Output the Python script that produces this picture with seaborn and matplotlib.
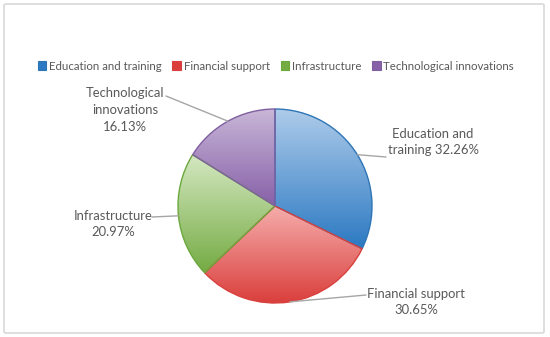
import numpy as np
import matplotlib
matplotlib.use("Agg")
import matplotlib.pyplot as plt
import seaborn as sns
from matplotlib.colors import LinearSegmentedColormap
from matplotlib.patches import FancyBboxPatch, Patch

# ------------------------------
# Data
# ------------------------------
categories = ["Education and training", "Financial support",
              "Infrastructure", "Technological innovations"]
shares = [32.26, 30.65, 20.97, 16.13]
slice_labels = ["Education and\ntraining 32.26%", "Financial support\n30.65%",
                "Infrastructure\n20.97%", "Technological\ninnovations\n16.13%"]

# gradient colours per slice (top, bottom) and edge colour
grad_top = ["#AECBEA", "#F5ADAB", "#D5E8C2", "#C8B6D7"]
grad_bot = ["#2B79C2", "#DA3F3C", "#74AB43", "#8760A8"]
edge_cols = ["#2E75B6", "#D9403D", "#6AA83C", "#7F5FA0"]

sns.set_theme(style="white")
plt.rcParams['font.family'] = ['Lato', 'DejaVu Sans']
text_col = "#595959"

W, H = 550, 337
fig = plt.figure(figsize=(W / 100, H / 100), dpi=100)
ax = fig.add_axes([0, 0, 1, 1])
ax.set_axis_off()

def py(y):
    # pixel row (from top) -> data y
    return H - y

# outer chart border
fig.patches.append(FancyBboxPatch((4 / W, 4 / H), 540 / W, 329 / H,
                                  boxstyle="round,pad=0,rounding_size=0.004",
                                  transform=fig.transFigure, fill=False,
                                  edgecolor="#D9D9D9", linewidth=1.2))

cx, cy, r = 275, py(206), 97
wedges, _ = ax.pie(shares, startangle=90, counterclock=False,
                   center=(cx, cy), radius=r,
                   wedgeprops=dict(linewidth=1.0))

for w, ct, cb, ec in zip(wedges, grad_top, grad_bot, edge_cols):
    w.set_facecolor("none")
    w.set_edgecolor(ec)
    w.set_zorder(3)
    bb = w.get_path().get_extents()
    cmap = LinearSegmentedColormap.from_list("g", [cb, ct])
    img = ax.imshow(np.linspace(0, 1, 256).reshape(-1, 1),
                    extent=[bb.x0, bb.x1, bb.y0, bb.y1], origin="lower",
                    cmap=cmap, aspect="auto", zorder=2, interpolation="bilinear")
    img.set_clip_path(w)

# labels with leader lines (text centre, leader end) in pixels
label_pos = [(433, 142), (416, 302), (113, 224), (125, 110)]
leader_end = [(386, 157), (366, 295), (152, 217), (166, 96)]

for w, lab, (tx, ty), (lx, ly) in zip(wedges, slice_labels, label_pos, leader_end):
    mid = np.deg2rad((w.theta1 + w.theta2) / 2)
    ex, ey = cx + r * np.cos(mid), cy + r * np.sin(mid)
    ax.plot([ex, lx], [ey, py(ly)], color="#A6A6A6", lw=1.0, zorder=4)
    ax.text(tx, py(ty), lab, ha="center", va="center", fontsize=9.4,
            color=text_col, linespacing=1.5, zorder=5)

handles = [Patch(facecolor=c, edgecolor=e, linewidth=0.8)
           for c, e in zip(grad_bot, edge_cols)]
leg = ax.legend(handles, categories, loc="center", bbox_to_anchor=(276 / W, 1 - 66 / H),
                bbox_transform=fig.transFigure, ncol=4, frameon=False, fontsize=8.3,
                handlelength=0.75, handleheight=0.75, handletextpad=0.25,
                columnspacing=0.9, borderpad=0)
for t in leg.get_texts():
    t.set_color(text_col)

ax.set_xlim(0, W)
ax.set_ylim(0, H)
ax.set_aspect("auto")

fig.savefig("out.png", dpi=100)
